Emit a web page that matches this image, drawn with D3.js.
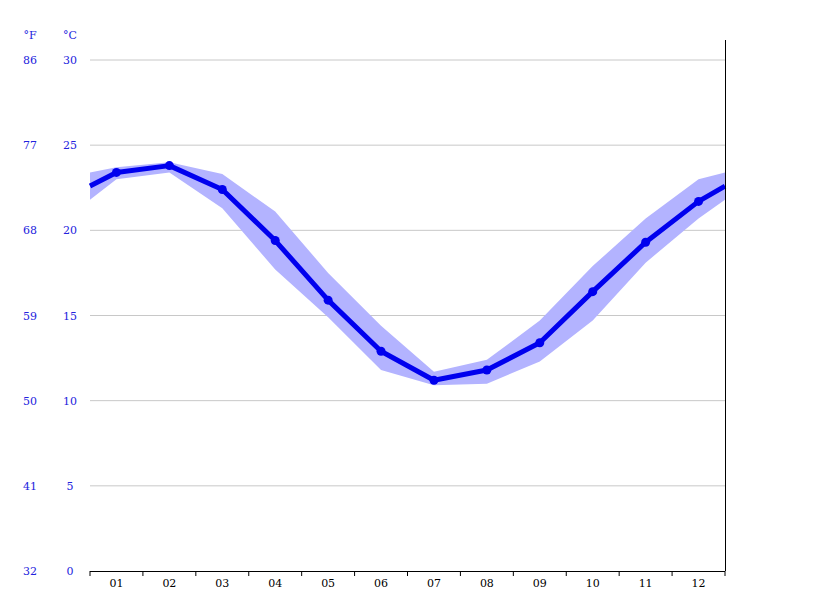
<!DOCTYPE html><html><head><meta charset="utf-8"><script src="https://cdn.jsdelivr.net/npm/d3@7"></script>
<style>body{margin:0;background:#fff}text{font-family:"DejaVu Serif",serif;font-size:11px}</style></head><body><svg id="c" width="815" height="611"></svg>
<script>
const months=["01","02","03","04","05","06","07","08","09","10","11","12"];
const pos=[0.5,1,2,3,4,5,6,7,8,9,10,11,12,12.5];
const mean=[22.6,23.4,23.8,22.4,19.4,15.9,12.9,11.2,11.8,13.4,16.4,19.3,21.7,22.6];
const upper=[23.4,23.7,24.0,23.3,21.1,17.5,14.4,11.7,12.4,14.7,17.9,20.7,23.0,23.4];
const lower=[21.8,23.0,23.4,21.3,17.7,14.9,11.8,10.9,11.0,12.3,14.7,18.1,20.7,21.8];
const cTicks=[0,5,10,15,20,25,30];
const fTicks=[32,41,50,59,68,77,86];
const svg=d3.select("#c");
const x=d3.scaleLinear().domain([0.5,12.5]).range([90,725]);
const y=d3.scaleLinear().domain([0,30]).range([571,60]);
cTicks.forEach((t,i)=>{
 if(t>0) svg.append("line").attr("x1",90).attr("x2",725).attr("y1",y(t)).attr("y2",y(t)).attr("stroke","#c8c8c8");
 svg.append("text").attr("x",70).attr("y",y(t)+4).attr("text-anchor","middle").attr("fill","#2222dd").text(t);
 svg.append("text").attr("x",30).attr("y",y(t)+4).attr("text-anchor","middle").attr("fill","#2222dd").text(fTicks[i]);
});
svg.append("text").attr("x",30).attr("y",39).attr("text-anchor","middle").attr("fill","#2222dd").text("°F");
svg.append("text").attr("x",70).attr("y",39).attr("text-anchor","middle").attr("fill","#2222dd").text("°C");
const idx=d3.range(pos.length);
svg.append("path").attr("d",d3.area().x(i=>x(pos[i])).y0(i=>y(lower[i])).y1(i=>y(upper[i]))(idx)).attr("fill","#b3b3ff");
svg.append("path").attr("d",d3.line().x(i=>x(pos[i])).y(i=>y(mean[i]))(idx)).attr("fill","none").attr("stroke","#0000ee").attr("stroke-width",5).attr("stroke-linejoin","round");
svg.selectAll("circle").data(idx.slice(1,13)).enter().append("circle").attr("cx",i=>x(pos[i])).attr("cy",i=>y(mean[i])).attr("r",4.5).attr("fill","#0000ee");
svg.append("line").attr("x1",90).attr("x2",725).attr("y1",571.5).attr("y2",571.5).attr("stroke","#000");
svg.append("line").attr("x1",725.5).attr("x2",725.5).attr("y1",40).attr("y2",571).attr("stroke","#000");
d3.range(13).forEach(k=>svg.append("line").attr("x1",x(0.5+k)).attr("x2",x(0.5+k)).attr("y1",571).attr("y2",576).attr("stroke","#000"));
months.forEach((m,i)=>svg.append("text").attr("x",x(i+1)).attr("y",587).attr("text-anchor","middle").attr("fill","#000").text(m));
</script></body></html>
